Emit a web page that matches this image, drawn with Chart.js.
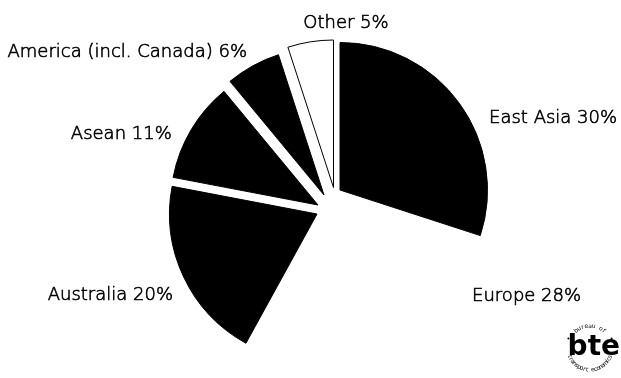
<!DOCTYPE html>
<html>
<head>
<meta charset="utf-8">
<script src="https://cdn.jsdelivr.net/npm/chart.js@4.4.1/dist/chart.umd.min.js"></script>
<style>
  html, body { margin: 0; padding: 0; background: #fff; }
  #wrap { width: 621px; height: 378px; position: relative; }
</style>
</head>
<body>
<div id="wrap"><canvas id="c"></canvas></div>
<script>
// Destination shares
const categories = ['East Asia', 'Europe', 'Australia', 'Asean', 'America (incl. Canada)', 'Other'];
const shares = [30, 28, 20, 11, 6, 5];

// Slice styling
const fills = ['#000', '#fff', '#000', '#000', '#000', '#fff'];
const edges = ['#000', '#fff', '#000', '#000', '#000', '#000'];
const edgeWidths = [1, 0, 1, 1, 1, 1];

// Pulled-apart slices: displacement of each slice from the pie centre (px)
const pullX = [10, -1, -13, -12, -6, 3.5];
const pullY = [-10, -3, 14, 5, -5, -12.5];

// Label anchors: angle (deg, clockwise from 12 o'clock) and distance from pie centre
const labelAngle = [64.2, 125.4, 237.5, 291.1, 329.8, 5.3];
const labelDist = [176.7, 174.3, 186.1, 169.6, 164.9, 173.0];
const labelAlign = ['left', 'left', 'right', 'right', 'right', 'center'];

const pullApart = {
  id: 'pullApart',
  beforeDatasetsDraw(chart, args, opts) {
    chart.getDatasetMeta(0).data.forEach((arc, i) => { arc.x += opts.dx[i]; arc.y += opts.dy[i]; });
  },
  afterDatasetsDraw(chart, args, opts) {
    chart.getDatasetMeta(0).data.forEach((arc, i) => { arc.x -= opts.dx[i]; arc.y -= opts.dy[i]; });
  }
};

const sliceLabels = {
  id: 'sliceLabels',
  afterDraw(chart, args, opts) {
    const ctx = chart.ctx;
    const ca = chart.chartArea;
    const cx = (ca.left + ca.right) / 2;
    const cy = (ca.top + ca.bottom) / 2;
    ctx.save();
    ctx.font = opts.font;
    ctx.fillStyle = '#000';
    ctx.strokeStyle = '#000';
    ctx.lineWidth = 0.6;
    ctx.textBaseline = 'alphabetic';
    chart.data.labels.forEach((name, i) => {
      const a = opts.angle[i] * Math.PI / 180;
      ctx.textAlign = opts.align[i];
      const value = chart.data.datasets[0].data[i];
      const text = name + ' ' + value + '%';
      const x = cx + opts.dist[i] * Math.sin(a);
      const y = cy - opts.dist[i] * Math.cos(a);
      ctx.fillText(text, x, y);
      ctx.strokeText(text, x, y);
    });
    ctx.restore();
  }
};

// Small circular "bte" badge in the corner
const badge = {
  id: 'badge',
  afterDraw(chart) {
    const ctx = chart.ctx;
    const W = chart.width, H = chart.height;
    const bx = W - 31, by = H - 30, r = 24;
    ctx.save();
    ctx.fillStyle = '#000';
    ctx.font = 'bold 28px "DejaVu Sans"';
    ctx.textAlign = 'right';
    ctx.textBaseline = 'alphabetic';
    ctx.fillText('bte', W - 1, H - 23);

    ctx.font = '6px "DejaVu Sans"';
    ctx.textAlign = 'center';
    ctx.textBaseline = 'middle';
    const arcText = (text, centreAngle, radius, top, step) => {
      const n = text.length;
      for (let k = 0; k < n; k++) {
        const off = (k - (n - 1) / 2) * step;
        const ang = top ? centreAngle + off : centreAngle - off;
        const x = bx + radius * Math.cos(ang);
        const y = by + radius * Math.sin(ang);
        ctx.save();
        ctx.translate(x, y);
        ctx.rotate(top ? ang + Math.PI / 2 : ang - Math.PI / 2);
        ctx.fillText(text[k], 0, 0);
        ctx.restore();
      }
    };
    arcText('bureau of', -Math.PI / 2, r - 2, true, 0.17);
    arcText('transport economics', Math.PI / 2, r - 2, false, 0.13);
    ctx.beginPath(); ctx.arc(bx - r * 0.9, by - r * 0.4, 1, 0, Math.PI * 2); ctx.fill();
    ctx.beginPath(); ctx.arc(bx + r * 0.9, by - r * 0.4, 1, 0, Math.PI * 2); ctx.fill();
    ctx.restore();
  }
};

new Chart(document.getElementById('c'), {
  type: 'pie',
  data: {
    labels: categories,
    datasets: [{
      data: shares,
      backgroundColor: fills,
      borderColor: edges,
      borderWidth: edgeWidths,
      radius: 147.5
    }]
  },
  options: {
    responsive: true,
    maintainAspectRatio: false,
    animation: false,
    events: [],
    layout: { padding: { left: 39, right: 0, top: 22, bottom: 0 } },
    plugins: {
      legend: { display: false },
      tooltip: { enabled: false },
      pullApart: { dx: pullX, dy: pullY },
      sliceLabels: { font: '200 18px "DejaVu Sans"', angle: labelAngle, dist: labelDist, align: labelAlign }
    }
  },
  plugins: [pullApart, sliceLabels, badge]
});
</script>
</body>
</html>
